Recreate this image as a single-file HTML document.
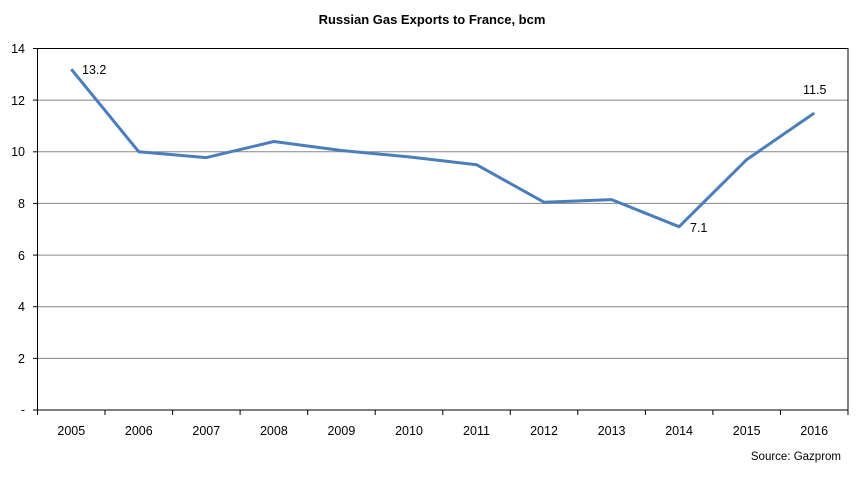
<!DOCTYPE html>
<html><head><meta charset="utf-8"><style>body{margin:0;background:#fff}</style></head><body>
<svg width="865" height="476" xmlns="http://www.w3.org/2000/svg" font-family="Liberation Sans, sans-serif" font-size="12.5">
<text x="432" y="24" text-anchor="middle" font-weight="bold" font-size="13">Russian Gas Exports to France, bcm</text>
<g stroke="#868686" stroke-width="1">
<line x1="37.5" x2="848" y1="100.1" y2="100.1"/>
<line x1="37.5" x2="848" y1="151.8" y2="151.8"/>
<line x1="37.5" x2="848" y1="203.4" y2="203.4"/>
<line x1="37.5" x2="848" y1="255.1" y2="255.1"/>
<line x1="37.5" x2="848" y1="306.7" y2="306.7"/>
<line x1="37.5" x2="848" y1="358.4" y2="358.4"/>
</g>
<rect x="37.5" y="48.5" width="810.5" height="361.5" fill="none" stroke="#000" stroke-width="1"/>
<g stroke="#000">
<line x1="33" x2="37.5" y1="48.5" y2="48.5"/><line x1="33" x2="37.5" y1="100.1" y2="100.1"/><line x1="33" x2="37.5" y1="151.8" y2="151.8"/><line x1="33" x2="37.5" y1="203.4" y2="203.4"/><line x1="33" x2="37.5" y1="255.1" y2="255.1"/><line x1="33" x2="37.5" y1="306.7" y2="306.7"/><line x1="33" x2="37.5" y1="358.4" y2="358.4"/><line x1="33" x2="37.5" y1="410" y2="410"/>
<line x1="37.5" x2="37.5" y1="410" y2="415"/><line x1="105" x2="105" y1="410" y2="415"/><line x1="172.6" x2="172.6" y1="410" y2="415"/><line x1="240.1" x2="240.1" y1="410" y2="415"/><line x1="307.7" x2="307.7" y1="410" y2="415"/><line x1="375.2" x2="375.2" y1="410" y2="415"/><line x1="442.8" x2="442.8" y1="410" y2="415"/><line x1="510.3" x2="510.3" y1="410" y2="415"/><line x1="577.8" x2="577.8" y1="410" y2="415"/><line x1="645.4" x2="645.4" y1="410" y2="415"/><line x1="712.9" x2="712.9" y1="410" y2="415"/><line x1="780.5" x2="780.5" y1="410" y2="415"/><line x1="848" x2="848" y1="410" y2="415"/>
</g>
<g text-anchor="end">
<text x="25" y="53">14</text><text x="25" y="105">12</text><text x="25" y="156">10</text><text x="25" y="208">8</text><text x="25" y="260">6</text><text x="25" y="311">4</text><text x="25" y="363">2</text><text x="25" y="414">-</text>
</g>
<g text-anchor="middle">
<text x="71.3" y="435">2005</text><text x="138.8" y="435">2006</text><text x="206.3" y="435">2007</text><text x="273.9" y="435">2008</text><text x="341.4" y="435">2009</text><text x="409" y="435">2010</text><text x="476.5" y="435">2011</text><text x="544" y="435">2012</text><text x="611.6" y="435">2013</text><text x="679.1" y="435">2014</text><text x="746.7" y="435">2015</text><text x="814.2" y="435">2016</text>
</g>
<polyline fill="none" stroke="#4a7ebb" stroke-width="3" stroke-linejoin="round" points="71.3,69.2 138.8,151.8 206.3,157.6 273.9,141.5 341.4,150.5 409,156.9 476.5,164.7 544,202.2 611.6,199.6 679.1,226.7 746.7,159.6 814.2,113.1"/>
<text x="82" y="74">13.2</text>
<text x="690" y="232">7.1</text>
<text x="803" y="94">11.5</text>
<text x="841" y="460" text-anchor="end" font-size="11.5">Source: Gazprom</text>
</svg>
</body></html>
